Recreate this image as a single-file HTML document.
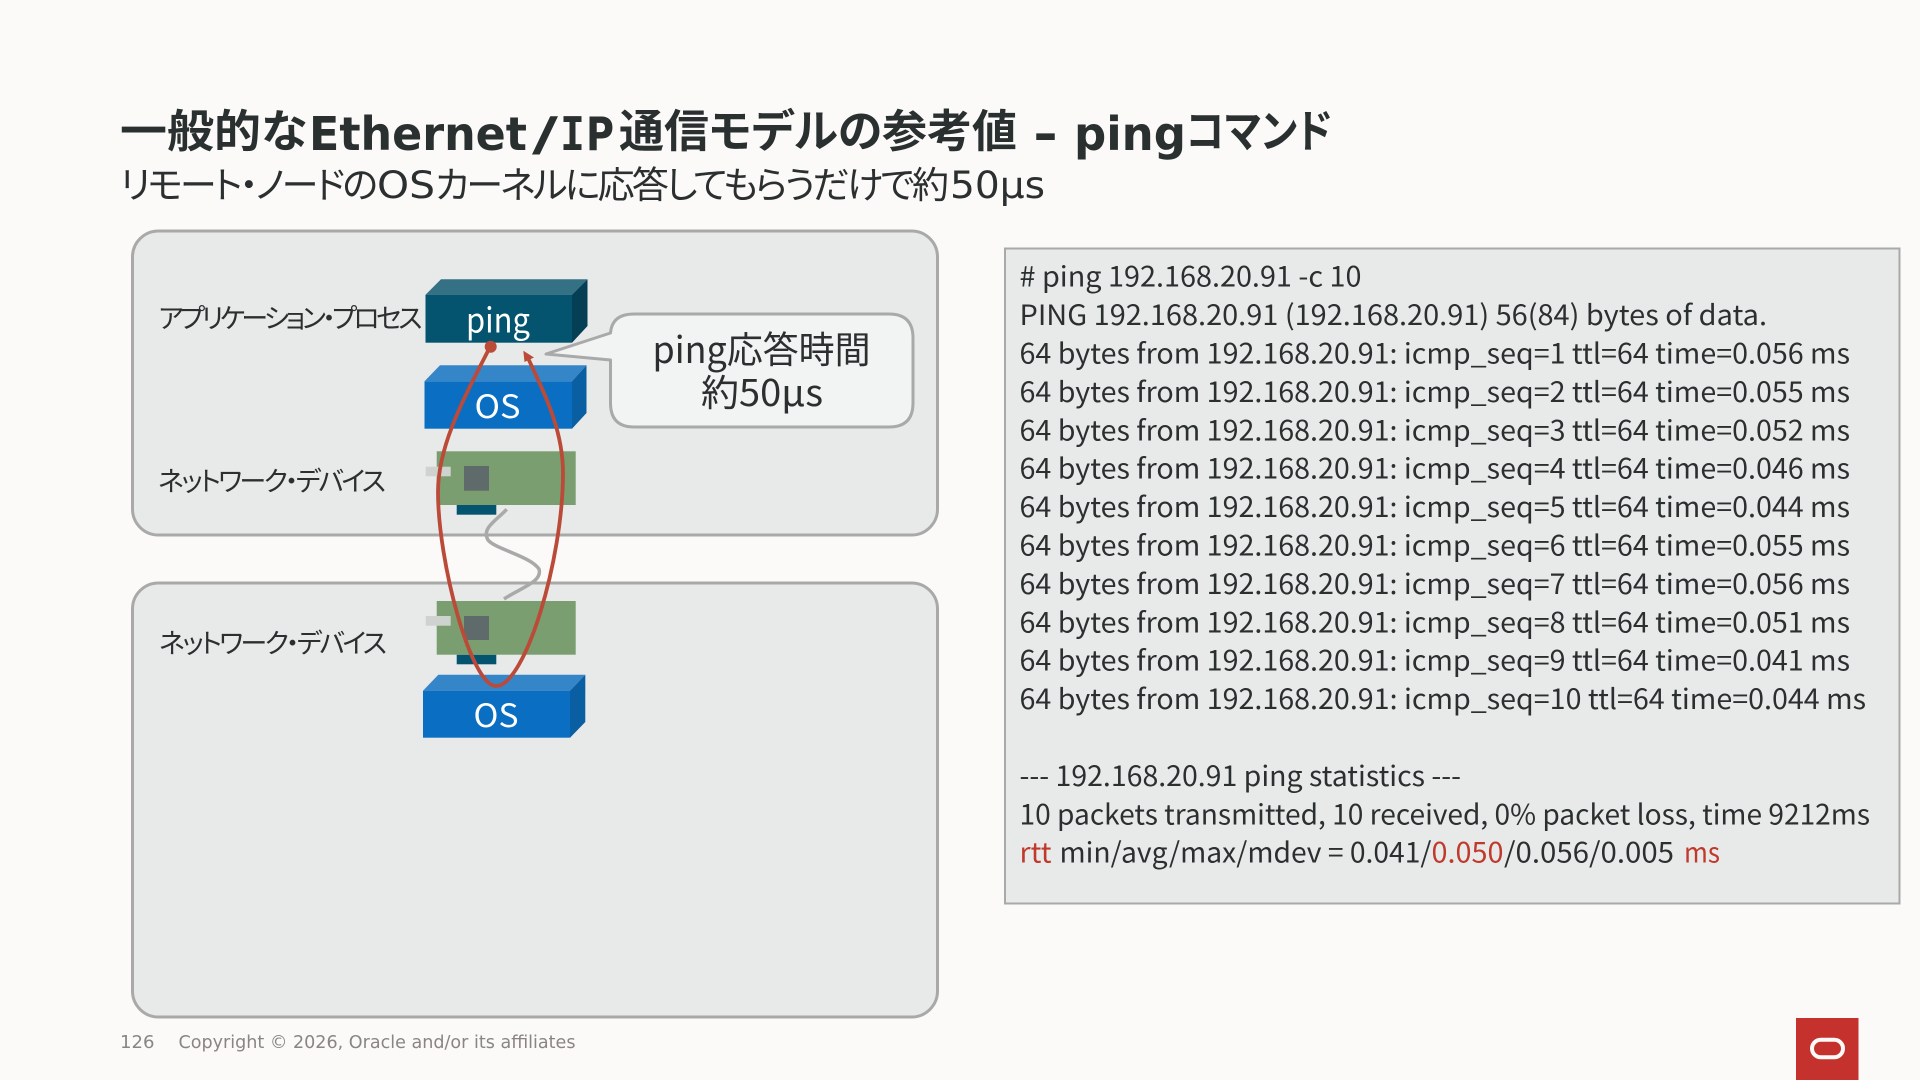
<!DOCTYPE html>
<html lang="ja">
<head>
<meta charset="utf-8">
<title>一般的なEthernet/IP通信モデルの参考値 - pingコマンド</title>
<style>
html,body{margin:0;padding:0;width:1920px;height:1080px;overflow:hidden;background:#fbfaf9}
svg{display:block}
text{font-family:"Noto Sans CJK JP","Liberation Sans",sans-serif;fill:#2b2f2f}
.t{font-weight:700;font-size:45px;fill:#2a2f2f;font-feature-settings:"palt"}
.d{font-family:"DejaVu Sans","Noto Sans CJK JP",sans-serif;font-weight:700;font-size:46px;fill:#2a2f2f}
.dm{font-family:"DejaVu Sans Mono","DejaVu Sans",monospace;font-weight:700;font-size:46px;fill:#2a2f2f}
.s{font-size:37px;font-feature-settings:"palt"}
.sl{font-family:"DejaVu Sans","Liberation Sans",sans-serif;font-size:37px}
.m{font-size:28px}
.r{fill:#c0392b}
.l{font-size:27px;font-feature-settings:"palt"}
.w{fill:#fff}
.f{font-family:"DejaVu Sans","Liberation Sans",sans-serif;font-size:18px;fill:#8a8582}
</style>
</head>
<body>
<svg width="1920" height="1080" viewBox="0 0 1920 1080" xmlns="http://www.w3.org/2000/svg">
<rect width="1920" height="1080" fill="#fbfaf9"/>

<!-- Title -->
<text class="t" x="120" y="147" textLength="187" lengthAdjust="spacingAndGlyphs">一般的な</text>
<text class="d" x="309" y="150" textLength="218" lengthAdjust="spacingAndGlyphs">Ethernet</text>
<text class="d" x="532" y="150" textLength="26" lengthAdjust="spacingAndGlyphs">/</text>
<text class="dm" x="560" y="150" textLength="25" lengthAdjust="spacingAndGlyphs">I</text>
<text class="d" x="586" y="150" textLength="28" lengthAdjust="spacingAndGlyphs">P</text>
<text class="t" x="619" y="147" textLength="398" lengthAdjust="spacingAndGlyphs">通信モデルの参考値</text>
<text class="d" x="1033" y="150" textLength="25" lengthAdjust="spacingAndGlyphs">-</text>
<text class="d" x="1074" y="150" textLength="112" lengthAdjust="spacingAndGlyphs">ping</text>
<text class="t" x="1186" y="147" textLength="146" lengthAdjust="spacingAndGlyphs">コマンド</text>

<!-- Subtitle -->
<text class="s" x="120" y="198" textLength="258">リモート・ノードの</text>
<text class="sl" x="377" y="198" textLength="58" lengthAdjust="spacingAndGlyphs">OS</text>
<text class="s" x="435" y="198" textLength="514">カーネルに応答してもらうだけで約</text>
<text class="sl" x="950" y="198" textLength="95" lengthAdjust="spacingAndGlyphs">50μs</text>

<!-- Node boxes -->
<rect x="132.5" y="231" width="805" height="304" rx="26" fill="#e8eaea" stroke="#a9a9a9" stroke-width="3"/>
<rect x="132.5" y="583" width="805" height="434" rx="26" fill="#e8eaea" stroke="#a9a9a9" stroke-width="3"/>

<!-- Labels -->
<text class="l" x="158.5" y="328" textLength="264">アプリケーション・プロセス</text>
<text class="l" x="158" y="491" textLength="228">ネットワーク・デバイス</text>
<text class="l" x="159" y="653" textLength="228">ネットワーク・デバイス</text>

<!-- ping block -->
<polygon points="425.5,294.7 441,279.3 587.5,279.3 572,294.7" fill="#357185"/>
<polygon points="572,294.7 587.5,279.3 587.5,326 572,342.7" fill="#043f56"/>
<rect x="425.5" y="294.7" width="146.5" height="48" fill="#04536f"/>
<text class="w" x="466" y="332.5" font-size="34" textLength="64" lengthAdjust="spacingAndGlyphs">ping</text>

<!-- OS block upper -->
<polygon points="424.5,381.3 440,365.3 586.5,365.3 572,381.3" fill="#3585c9"/>
<polygon points="572,381.3 586.5,365.3 586.5,413 572,428.7" fill="#0a5ea2"/>
<rect x="424.5" y="381.3" width="147.5" height="47.4" fill="#0a6fc2"/>
<text class="w" x="474.5" y="418" font-size="32" textLength="46" lengthAdjust="spacingAndGlyphs">OS</text>

<!-- NIC upper -->
<rect x="456.7" y="505" width="39.6" height="9.7" fill="#04536f"/>
<rect x="436.7" y="451.3" width="139" height="53.7" fill="#7a9e6f"/>
<rect x="425.7" y="466.7" width="25" height="9.6" fill="#cfd3d0"/>
<rect x="464" y="466" width="25" height="24.7" fill="#5f6b6b"/>

<!-- NIC lower -->
<rect x="456.7" y="654.7" width="39.6" height="9.6" fill="#04536f"/>
<rect x="436.7" y="601" width="139" height="53.7" fill="#7a9e6f"/>
<rect x="425.7" y="616" width="25" height="9.7" fill="#cfd3d0"/>
<rect x="464" y="616" width="25" height="24" fill="#5f6b6b"/>

<!-- OS block lower -->
<polygon points="423,690.7 438.3,674.7 585.3,674.7 570,690.7" fill="#3585c9"/>
<polygon points="570,690.7 585.3,674.7 585.3,722 570,737.7" fill="#0a5ea2"/>
<rect x="423" y="690.7" width="147" height="47" fill="#0a6fc2"/>
<text class="w" x="473.5" y="727" font-size="32" textLength="45" lengthAdjust="spacingAndGlyphs">OS</text>

<!-- Cable -->
<path d="M506.7 509.3 C497 520 481 528 488 540 C495 549 530 556 539 569 C543 582 520 588 504 599" fill="none" stroke="#a9a9a9" stroke-width="3.5"/>

<!-- Callout -->
<path d="M634 314 H889 Q913 314 913 338 V403 Q913 427 889 427 H634 Q610.5 427 610.5 403 V360 L546 354 L610.5 333 Q612 314 634 314 Z" fill="#f2f3f3" stroke="#a9a9a9" stroke-width="3" stroke-linejoin="round"/>
<text x="652.5" y="363" font-size="37" textLength="218" lengthAdjust="spacingAndGlyphs">ping応答時間</text>
<text x="701" y="406" font-size="37" textLength="122" lengthAdjust="spacingAndGlyphs">約50μs</text>

<!-- Red loop -->
<path d="M490 347 C464 398 438 445 438 492 C438 562 471 686 496 686 C525 686 563 560 563 473 C563 430 545 395 528 358" fill="none" stroke="#bb4a38" stroke-width="3.8"/>
<circle cx="490.7" cy="346.7" r="6" fill="#bb4a38"/>
<polygon points="523.3,350.7 524.5,362 534,357.5" fill="#bb4a38"/>

<!-- Ping panel -->
<rect x="1005" y="248.5" width="894.5" height="655" fill="#e8eaea" stroke="#a9a9a9" stroke-width="2"/>
<text class="m" x="1019.5" y="286.7" textLength="342" lengthAdjust="spacingAndGlyphs"># ping 192.168.20.91 -c 10</text>
<text class="m" x="1019.5" y="325.1" textLength="747.5" lengthAdjust="spacingAndGlyphs">PING 192.168.20.91 (192.168.20.91) 56(84) bytes of data.</text>
<text class="m" x="1019.5" y="363.5" textLength="830.5" lengthAdjust="spacingAndGlyphs">64 bytes from 192.168.20.91: icmp_seq=1 ttl=64 time=0.056 ms</text>
<text class="m" x="1019.5" y="401.9" textLength="830.5" lengthAdjust="spacingAndGlyphs">64 bytes from 192.168.20.91: icmp_seq=2 ttl=64 time=0.055 ms</text>
<text class="m" x="1019.5" y="440.3" textLength="830.5" lengthAdjust="spacingAndGlyphs">64 bytes from 192.168.20.91: icmp_seq=3 ttl=64 time=0.052 ms</text>
<text class="m" x="1019.5" y="478.7" textLength="830.5" lengthAdjust="spacingAndGlyphs">64 bytes from 192.168.20.91: icmp_seq=4 ttl=64 time=0.046 ms</text>
<text class="m" x="1019.5" y="517.1" textLength="830.5" lengthAdjust="spacingAndGlyphs">64 bytes from 192.168.20.91: icmp_seq=5 ttl=64 time=0.044 ms</text>
<text class="m" x="1019.5" y="555.5" textLength="830.5" lengthAdjust="spacingAndGlyphs">64 bytes from 192.168.20.91: icmp_seq=6 ttl=64 time=0.055 ms</text>
<text class="m" x="1019.5" y="593.9" textLength="830.5" lengthAdjust="spacingAndGlyphs">64 bytes from 192.168.20.91: icmp_seq=7 ttl=64 time=0.056 ms</text>
<text class="m" x="1019.5" y="632.3" textLength="830.5" lengthAdjust="spacingAndGlyphs">64 bytes from 192.168.20.91: icmp_seq=8 ttl=64 time=0.051 ms</text>
<text class="m" x="1019.5" y="670.7" textLength="830.5" lengthAdjust="spacingAndGlyphs">64 bytes from 192.168.20.91: icmp_seq=9 ttl=64 time=0.041 ms</text>
<text class="m" x="1019.5" y="709.1" textLength="846.5" lengthAdjust="spacingAndGlyphs">64 bytes from 192.168.20.91: icmp_seq=10 ttl=64 time=0.044 ms</text>
<text class="m" x="1019.5" y="785.9" textLength="441.5" lengthAdjust="spacingAndGlyphs">--- 192.168.20.91 ping statistics ---</text>
<text class="m" x="1019.5" y="824.3" textLength="850.5" lengthAdjust="spacingAndGlyphs">10 packets transmitted, 10 received, 0% packet loss, time 9212ms</text>
<text class="m r" x="1019.5" y="862.7" textLength="32" lengthAdjust="spacingAndGlyphs">rtt</text>
<text class="m" x="1059.5" y="862.7" textLength="372" lengthAdjust="spacingAndGlyphs">min/avg/max/mdev = 0.041/</text>
<text class="m r" x="1431.5" y="862.7" textLength="72" lengthAdjust="spacingAndGlyphs">0.050</text>
<text class="m" x="1504" y="862.7" textLength="170" lengthAdjust="spacingAndGlyphs">/0.056/0.005</text>
<text class="m r" x="1684" y="862.7" textLength="36" lengthAdjust="spacingAndGlyphs">ms</text>

<!-- Footer -->
<text class="f" x="120" y="1048" textLength="34.5" lengthAdjust="spacingAndGlyphs">126</text>
<text class="f" x="178.5" y="1048" textLength="397" lengthAdjust="spacingAndGlyphs">Copyright © 2026, Oracle and/or its affiliates</text>

<!-- Logo -->
<rect x="1796" y="1018" width="62.5" height="62" fill="#c5312c"/>
<rect x="1812" y="1039.7" width="31" height="17.6" rx="8.8" fill="none" stroke="#fbfaf9" stroke-width="4"/>
</svg>
</body>
</html>
